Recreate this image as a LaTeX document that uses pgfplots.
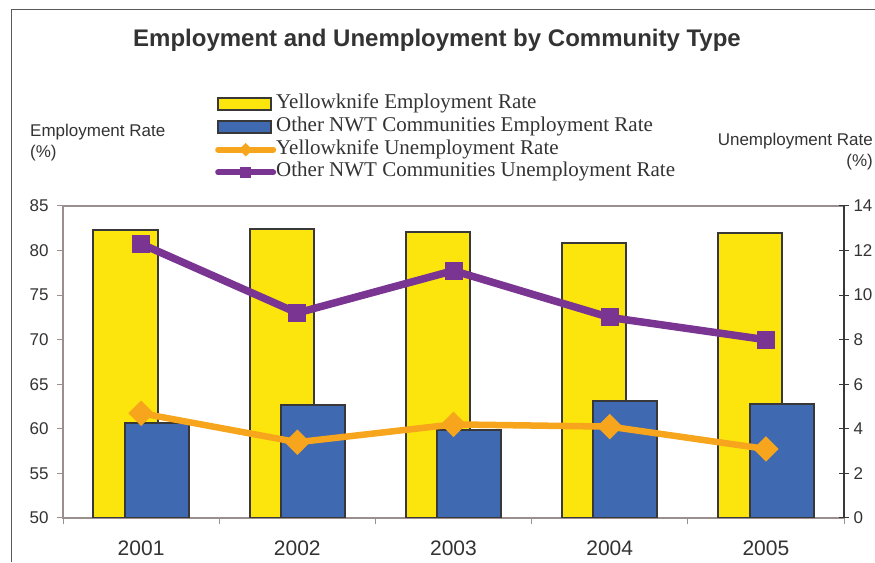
\documentclass[border=0pt]{standalone}
\usepackage{pgfplots}
\pgfplotsset{compat=1.18}
\usepackage{fontspec}
\setmainfont{Liberation Sans}
\newfontfamily\legfont{Liberation Serif}
\definecolor{ybarc}{HTML}{FCE50C}
\definecolor{bbarc}{HTML}{3F6AB1}
\definecolor{olinec}{HTML}{F7A51C}
\definecolor{plinec}{HTML}{7A3593}
\definecolor{framec}{HTML}{9A8E8E}
\definecolor{edgec}{HTML}{383838}
\definecolor{textc}{HTML}{333333}
\begin{document}
\begin{tikzpicture}[x=1pt,y=1pt]
\useasboundingbox (0,0) rectangle (875,562);
\draw[line width=1pt, color=gray!70!black] (11,0) -- (11,552) -- (876,552);
\begin{axis}[
  at={(63pt,44pt)}, anchor=south west,
  scale only axis, width=781pt, height=312pt,
  xmin=-0.5, xmax=4.5, ymin=50, ymax=85,
  ytick={50,55,...,85},
  xtick={0,1,2,3,4},
  xticklabels={2001,2002,2003,2004,2005},
  minor xtick={-0.5,0.5,1.5,2.5,3.5,4.5},
  major x tick style={draw=none},
  minor tick length=6pt, major tick length=6pt,
  tick align=outside,
  xtick pos=bottom, ytick pos=left,
  axis line style={framec, line width=1.3pt},
  every tick/.style={framec, line width=1pt},
  /pgf/number format/assume math mode=true,
  yticklabel style={font=\fontsize{17}{17}\selectfont, text=textc, xshift=-5pt},
  xticklabel style={font=\fontsize{21}{21}\selectfont, text=textc, yshift=-13pt},
  title={Employment and Unemployment by Community Type},
  title style={at={(axis description cs:0.4789,1.5125)}, anchor=center, font=\bfseries\fontsize{24}{24}\selectfont, text=textc},
  ylabel={Employment Rate\\(\%)},
  ylabel style={rotate=-90, at={(axis description cs:-0.0423,1.262)}, anchor=north west, align=left, inner sep=0pt, font=\fontsize{17}{21}\selectfont, text=textc},
]
\addplot[ybar, bar width=0.41, bar shift=-0.1, fill=ybarc, draw=edgec, line width=2pt]
  coordinates {(0,82.3) (1,82.4) (2,82.1) (3,80.8) (4,82.0)};
\addplot[ybar, bar width=0.41, bar shift=0.1, fill=bbarc, draw=edgec, line width=2pt]
  coordinates {(0,60.7) (1,62.7) (2,59.9) (3,63.1) (4,62.8)};
\end{axis}
\begin{axis}[
  at={(63pt,44pt)}, anchor=south west,
  scale only axis, width=781pt, height=312pt,
  xmin=-0.5, xmax=4.5, ymin=0, ymax=14,
  ytick={0,2,...,14},
  axis x line=none, axis y line*=right,
  axis line style={edgec, line width=1.3pt, -},
  tick align=center, major tick length=10pt,
  every tick/.style={edgec, line width=1pt},
  /pgf/number format/assume math mode=true,
  yticklabel style={font=\fontsize{17}{17}\selectfont, text=textc, xshift=1pt},
  ylabel={Unemployment Rate\\(\%)},
  ylabel style={rotate=-90, at={(axis description cs:1.0371,1.235)}, anchor=north east, align=right, inner sep=0pt, font=\fontsize{17}{21}\selectfont, text=textc},
  legend style={at={(axis description cs:0.1946,1.357)}, anchor=north west, draw=none, fill=none, inner sep=0pt, row sep=3.7pt,
    font=\legfont\fontsize{21}{21}\selectfont,
    nodes={inner sep=0pt, text height=14pt, text depth=5pt, text=textc},
    /tikz/every odd column/.append style={column sep=0pt}},
  legend cell align=left,
]
\addlegendimage{legend image code/.code={\draw[fill=ybarc, draw=edgec, line width=2pt] (0pt,-6pt) rectangle (53pt,6pt);}}
\addlegendimage{legend image code/.code={\draw[fill=bbarc, draw=edgec, line width=2pt] (0pt,-6pt) rectangle (53pt,6pt);}}
\addlegendimage{legend image code/.code={\draw[olinec, line width=6pt, line cap=round, mark=square*, mark size=4.5pt, mark options={rotate=45, line cap=butt, line width=0.5pt}, mark repeat=2, mark phase=2] plot coordinates {(0pt,0pt) (27.5pt,0pt) (55pt,0pt)};}}
\addlegendimage{legend image code/.code={\draw[plinec, line width=6pt, line cap=round, mark=square*, mark size=5pt, mark options={line cap=butt, line width=0.5pt}, mark repeat=2, mark phase=2] plot coordinates {(0pt,0pt) (27.5pt,0pt) (55pt,0pt)};}}
\addplot[olinec, line width=6.5pt, mark=square*, mark size=8.5pt, mark options={rotate=45, line width=1pt, fill=olinec}]
  coordinates {(0,4.7) (1,3.4) (2,4.2) (3,4.1) (4,3.1)};
\addplot[plinec, line width=7.5pt, mark=square*, mark size=8.5pt, mark options={line width=1pt, fill=plinec}]
  coordinates {(0,12.3) (1,9.2) (2,11.1) (3,9.0) (4,8.0)};
\legend{Yellowknife Employment Rate, Other NWT Communities Employment Rate, Yellowknife Unemployment Rate, Other NWT Communities Unemployment Rate}
\end{axis}
\end{tikzpicture}
\end{document}
